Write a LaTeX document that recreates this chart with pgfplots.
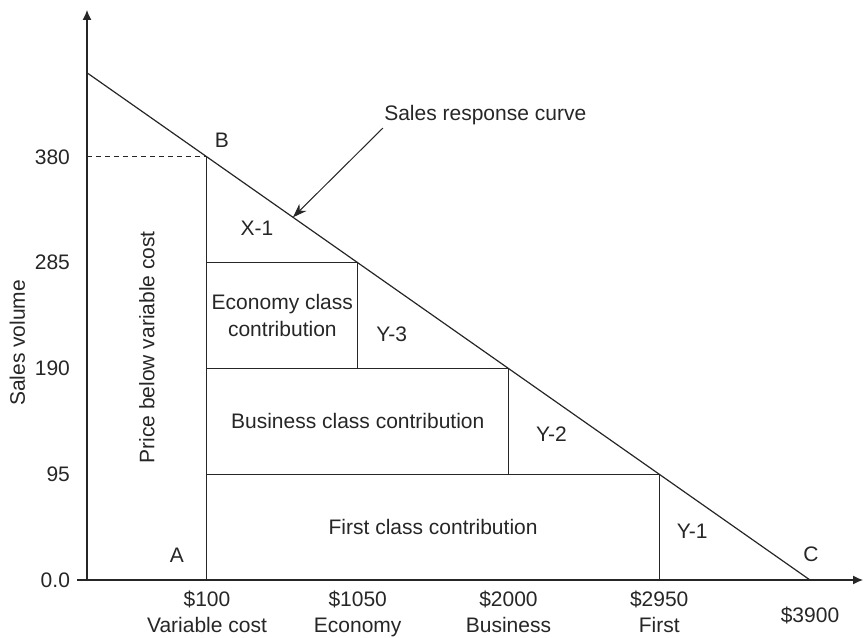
\documentclass[border=0pt]{standalone}
\usepackage{pgfplots}
\pgfplotsset{compat=1.18}
\usepackage{fontspec}
\setmainfont{Liberation Sans}
\usetikzlibrary{arrows.meta}

\colorlet{ink}{black!85}
\newcommand\lab{\fontsize{10.5}{13.5}\selectfont}

\begin{document}
\begin{tikzpicture}
\begin{axis}[
  scale only axis, width=388pt, height=285pt,
  xmin=-656, xmax=4234, ymin=0, ymax=512,
  enlargelimits=false,
  axis lines=left,
  axis line style={ink, line width=0.6pt, -{Latex[length=5pt,width=4.5pt]}},
  clip=false,
  xtick={100,1050,2000,2950},
  xticklabels={{\$100\\Variable cost},{\$1050\\Economy},{\$2000\\Business},{\$2950\\First}},
  extra x ticks={3900},
  extra x tick labels={\$3900},
  extra x tick style={xticklabel style={yshift=-8pt}},
  ytick={0,95,190,285,380},
  yticklabels={0.0,95,190,285,380},
  major tick length=0pt,
  tick label style={font=\fontsize{10.5}{13}\selectfont, text=ink},
  xticklabel style={align=center, yshift=-2pt},
  yticklabel style={xshift=-5pt},
  /pgf/number format/assume math mode=true,
]
% sales response curve, B = (100,380), C = (3900,0)
\addplot[ink, line width=0.6pt, no marks] coordinates {(-656,455.6) (3900,0)};
\addplot[ink, line width=0.5pt, no marks, dash pattern=on 2.5pt off 2pt] coordinates {(-656,380) (100,380)};
% stub of the x axis left of the origin
\addplot[ink, line width=0.6pt, no marks] coordinates {(-719,0) (-656,0)};
% contribution blocks
\addplot[ink, line width=0.5pt, no marks] coordinates {(100,380) (100,0)};
\addplot[ink, line width=0.5pt, no marks] coordinates {(100,285) (1050,285) (1050,190)};
\addplot[ink, line width=0.5pt, no marks] coordinates {(100,190) (2000,190) (2000,95)};
\addplot[ink, line width=0.5pt, no marks] coordinates {(100,95) (2950,95) (2950,0)};

\begin{scope}[every node/.style={font=\lab, text=ink}]
\node at (axis cs:194,395) {B};
\node at (axis cs:-89,22.5) {A};
\node at (axis cs:3906,23.4) {C};
\node at (axis cs:415,315.5) {X-1};
\node[align=center] at (axis cs:575,237.5) {Economy class\\contribution};
\node at (axis cs:1264,220.5) {Y-3};
\node at (axis cs:1050,142.5) {Business class contribution};
\node at (axis cs:2271,131) {Y-2};
\node at (axis cs:1525,47.5) {First class contribution};
\node at (axis cs:3158,44) {Y-1};
\node[rotate=90] at (axis cs:-278,209) {Price below variable cost};
\node[rotate=90] at (axis cs:-1094,213) {Sales volume};
\node[anchor=west, inner sep=0pt] at (axis cs:1215,417.7) {Sales response curve};
\end{scope}
\draw[ink, line width=0.5pt, -{Stealth[length=7pt,width=5pt]}] (axis cs:1209,406) -- (axis cs:642,325.8);

\coordinate (bl) at ([xshift=-43.5pt,yshift=-29pt]current axis.south west);
\coordinate (tr) at ([xshift=0.5pt,yshift=5pt]current axis.north east);
\end{axis}
\pgfresetboundingbox
\path[use as bounding box] (bl) rectangle (tr);
\end{tikzpicture}
\end{document}
